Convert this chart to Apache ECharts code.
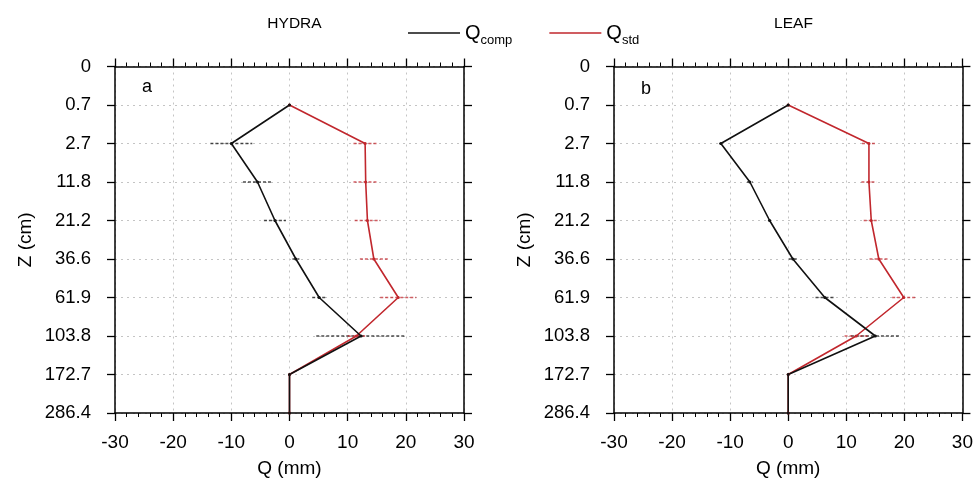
<!DOCTYPE html>
<html><head><meta charset="utf-8">
<script src="https://cdn.jsdelivr.net/npm/echarts@6/dist/echarts.min.js"></script>
<style>html,body{margin:0;padding:0;background:#fff}#c{width:976px;height:483px}</style>
</head><body><div id="c"></div>
<script>
const depths = ['0','0.7','2.7','11.8','21.2','36.6','61.9','103.8','172.7','286.4'];
const levels = ['0.7','2.7','11.8','21.2','36.6','61.9','103.8','172.7','286.4'];
const xTicks = [-30,-20,-10,0,10,20,30];
// Panel a (HYDRA)
const qcompA = [0,-10,-5.5,-2.5,1.1,5.1,12.3,0,0];
const qstdA  = [0,13.0,13.1,13.4,14.5,18.7,11.5,0,0];
const errCompA = [0,3.6,2.5,1.9,0.6,1.2,7.7,0,0];
const errStdA  = [0,2.0,2.1,2.2,2.4,3.1,1.5,0,0];
// Panel b (LEAF)
const qcompB = [0,-11.6,-6.6,-3.2,0.8,6.3,15.0,0,0];
const qstdB  = [0,13.9,13.9,14.3,15.6,19.9,11.7,0,0];
const errCompB = [0,0.3,0.5,0.3,0.7,1.6,4.2,0,0];
const errStdB  = [0,1.2,1.3,1.3,1.6,2.0,2.0,0,0];

const BLACK = '#111', RED = '#c1272d';
const FONT = 'Liberation Sans';

function pts(vals){ return vals.map((v,i)=>[v, levels[i]]); }
function errs(vals, e){ return vals.map((v,i)=>[v-e[i], v+e[i], levels[i]]).filter((d,i)=>e[i]>0); }

function errSeries(data, color, xi, yi){
  return {
    type:'custom', xAxisIndex:xi, yAxisIndex:yi, z:1, silent:true,
    encode:{x:[0,1], y:2},
    data,
    renderItem:(params, api)=>{
      const a = api.coord([api.value(0), api.value(2)]);
      const b = api.coord([api.value(1), api.value(2)]);
      return {type:'line', shape:{x1:a[0],y1:a[1],x2:b[0],y2:b[1]},
        style:{stroke:color, lineWidth:1.3, lineDash:[3,2], opacity:0.75}};
    }
  };
}

const grids = [{left:115, top:66.5, width:349, height:347.5},{left:614, top:66.5, width:349, height:347.5}];
const xAxes = [], yAxes = [];
grids.forEach((g,gi)=>{
  const base = {
    type:'value', gridIndex:gi, min:-30, max:30, interval:10,
    axisLine:{show:true, onZero:false, lineStyle:{color:'#000', width:1.5}},
    axisTick:{show:true, length:8, lineStyle:{color:'#000', width:1.3}},
    minorTick:{show:true, splitNumber:5, length:4, lineStyle:{color:'#000', width:1}},
  };
  xAxes.push(Object.assign({}, base, {
    position:'bottom',
    name:'Q (mm)', nameLocation:'middle', nameGap:46,
    nameTextStyle:{fontFamily:FONT, fontSize:19, color:'#000'},
    axisLabel:{fontFamily:FONT, fontSize:19, color:'#000', margin:20},
    splitLine:{show:true, lineStyle:{color:'#c4c4c4', type:[2,4], width:1}}
  }));
  xAxes.push(Object.assign({}, base, {
    position:'top', axisLabel:{show:false}, splitLine:{show:false}
  }));
  const ybase = {
    type:'category', gridIndex:gi, data:depths, inverse:true, boundaryGap:false,
    axisLine:{show:true, onZero:false, lineStyle:{color:'#000', width:1.5}},
    axisTick:{show:true, length:8, alignWithLabel:true, lineStyle:{color:'#000', width:1.3}},
  };
  yAxes.push(Object.assign({}, ybase, {
    position:'left',
    name:'Z (cm)', nameLocation:'middle', nameGap:80, nameRotate:90,
    nameTextStyle:{fontFamily:FONT, fontSize:19, color:'#000'},
    axisLabel:{fontFamily:FONT, fontSize:18.5, color:'#000', margin:24},
    splitLine:{show:true, lineStyle:{color:'#c4c4c4', type:[2,4], width:1}}
  }));
  yAxes.push(Object.assign({}, ybase, {
    position:'right', axisLabel:{show:false}, splitLine:{show:false}
  }));
});

function lineSeries(name, vals, color, xi, yi){
  return {type:'line', name, xAxisIndex:xi, yAxisIndex:yi, data:pts(vals), z:3,
    symbol:'circle', symbolSize:3, showSymbol:true, animation:false,
    itemStyle:{color}, lineStyle:{color, width:1.6}};
}

const option = {
  animation:false,
  textStyle:{fontFamily:FONT},
  title:[
    {text:'HYDRA', left:289.5, top:11, textAlign:'center', textStyle:{fontFamily:FONT, fontSize:15.5, fontWeight:'normal', color:'#000'}},
    {text:'LEAF', left:788.5, top:11, textAlign:'center', textStyle:{fontFamily:FONT, fontSize:15.5, fontWeight:'normal', color:'#000'}},
    {text:'a', left:137, top:73, textStyle:{fontFamily:FONT, fontSize:18, fontWeight:'normal', color:'#000'}},
    {text:'b', left:636, top:75, textStyle:{fontFamily:FONT, fontSize:18, fontWeight:'normal', color:'#000'}}
  ],
  legend:{
    left:408, top:23, padding:0, itemGap:37, itemWidth:52, itemHeight:1.5, icon:'rect',
    data:['Qcomp','Qstd'],
    formatter:n=> n==='Qcomp' ? '{q|Q}{s|comp}' : '{q|Q}{s|std}',
    textStyle:{color:'#000', fontFamily:FONT, rich:{
      q:{fontSize:20, fontFamily:FONT, color:'#000', verticalAlign:'bottom'},
      s:{fontSize:13, fontFamily:FONT, color:'#000', verticalAlign:'bottom', padding:[0,0,-4,0]}
    }}
  },
  grid:grids,
  xAxis:xAxes,
  yAxis:yAxes,
  series:[
    errSeries(errs(qcompA, errCompA), BLACK, 0, 0),
    errSeries(errs(qstdA, errStdA), RED, 0, 0),
    lineSeries('Qstd', qstdA, RED, 0, 0),
    lineSeries('Qcomp', qcompA, BLACK, 0, 0),
    errSeries(errs(qcompB, errCompB), BLACK, 2, 2),
    errSeries(errs(qstdB, errStdB), RED, 2, 2),
    lineSeries('Qstd', qstdB, RED, 2, 2),
    lineSeries('Qcomp', qcompB, BLACK, 2, 2)
  ]
};
const chart = echarts.init(document.getElementById('c'), null, {renderer:'canvas'});
chart.setOption(option);
</script>
</body></html>
